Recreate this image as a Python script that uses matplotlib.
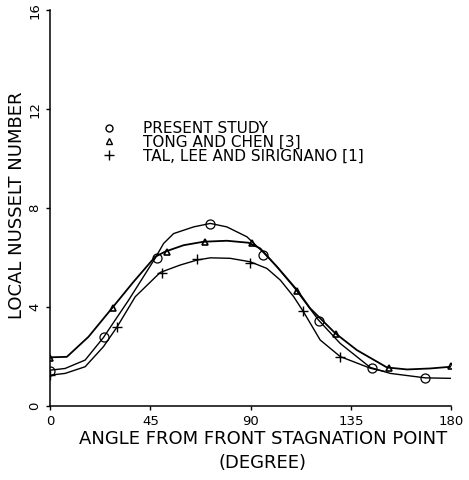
import matplotlib
matplotlib.use("Agg")
import matplotlib.pyplot as plt
from matplotlib.lines import Line2D

# curves (angle in degrees, local Nusselt number)
present_x = [0, 6.7, 15.7, 23.9, 35.2, 47.1, 50.9, 55.4, 64.4, 71.9, 79.3, 88.3,
             95.8, 101.8, 109.3, 120.5, 130.2, 143.7, 152.7, 168.4, 180]
present_y = [1.45, 1.52, 1.86, 2.77, 4.28, 5.97, 6.57, 6.97, 7.24, 7.38, 7.24, 6.84,
             6.2, 5.63, 4.82, 3.47, 2.53, 1.56, 1.32, 1.14, 1.12]
tong_x = [0, 7.5, 17.2, 27.7, 37.4, 47.1, 51.6, 59.9, 68.8, 79.3, 89, 94.3,
          101.8, 110.8, 116.7, 128, 137.7, 151.2, 160.2, 170.6, 180]
tong_y = [1.97, 1.99, 2.8, 3.95, 5.02, 6.03, 6.24, 6.5, 6.64, 6.68, 6.6, 6.37,
          5.63, 4.69, 3.95, 2.94, 2.26, 1.56, 1.48, 1.52, 1.59]
tal_x = [0, 6.7, 15.7, 23.9, 29.9, 38.2, 49.4, 58.4, 65.9, 71.9, 80.8, 89.8,
         97.3, 103.3, 109.3, 113.7, 121.2, 130.2, 143.7, 150]
tal_y = [1.25, 1.32, 1.59, 2.4, 3.18, 4.42, 5.4, 5.7, 5.9, 5.99, 5.97, 5.83,
         5.56, 5.09, 4.42, 3.81, 2.67, 2.0, 1.53, 1.4]

# data points (markers)
present_mx = [0, 24.3, 48, 71.8, 95.7, 120.5, 144.3, 168.3]
present_my = [1.42, 2.79, 5.98, 7.37, 6.1, 3.45, 1.55, 1.12]
tong_mx = [0, 28.2, 52.3, 69.5, 90.6, 111, 128.5, 152, 180]
tong_my = [1.96, 3.96, 6.22, 6.64, 6.6, 4.65, 2.92, 1.54, 1.6]
tal_mx = [0, 30, 50, 66, 89.8, 113.6, 130.2]
tal_my = [1.27, 3.2, 5.38, 5.93, 5.8, 3.83, 2.0]

labels = ["PRESENT STUDY", "TONG AND CHEN [3]", "TAL, LEE AND SIRIGNANO [1]"]
xticks = [0, 45, 90, 135, 180]
yticks = [0, 4, 8, 12, 16]

plt.rcParams['font.family'] = ['DejaVu Sans']
fig = plt.figure(figsize=(4.69, 4.80), dpi=100)
ax = fig.add_axes([0.107, 0.154, 0.855, 0.825])

ax.plot(present_x, present_y, color='black', lw=1.0)
ax.plot(tong_x, tong_y, color='black', lw=1.3)
ax.plot(tal_x, tal_y, color='black', lw=1.0)
ax.plot(present_mx, present_my, 'o', mfc='none', mec='black', ms=6.5, mew=0.9)
ax.plot(tong_mx, tong_my, '^', mfc='none', mec='black', ms=5, mew=1.2)
ax.plot(tal_mx, tal_my, '+', color='black', ms=7, mew=1.0)

ax.set_xlim(0, 180)
ax.set_ylim(0, 16)
ax.set_xticks(xticks)
ax.set_yticks(yticks)
ax.tick_params(axis='both', labelsize=9.5, length=3, width=1.0)
for lab in ax.get_yticklabels():
    lab.set_rotation(90)
    lab.set_va('center')
ax.spines['top'].set_visible(False)
ax.spines['right'].set_visible(False)
ax.spines['left'].set_linewidth(1.1)
ax.spines['bottom'].set_linewidth(1.1)

ax.set_xlabel("ANGLE FROM FRONT STAGNATION POINT\n(DEGREE)", fontsize=13,
              linespacing=1.45)
ax.xaxis.set_label_coords(0.53, -0.06)
ax.set_ylabel("LOCAL NUSSELT NUMBER", fontsize=13)
ax.yaxis.set_label_coords(-0.06, 0.508)

handles = [Line2D([], [], marker='o', ls='none', mfc='none', mec='black', ms=5),
           Line2D([], [], marker='^', ls='none', mfc='none', mec='black', ms=5),
           Line2D([], [], marker='+', ls='none', color='black', ms=7)]
ax.legend(handles, labels, loc='upper left', bbox_to_anchor=(0.127, 0.72),
          frameon=False, fontsize=11, handlelength=1.0, handletextpad=1.75,
          labelspacing=-0.08, borderpad=0, borderaxespad=0)

fig.savefig("out.png", dpi=100)
